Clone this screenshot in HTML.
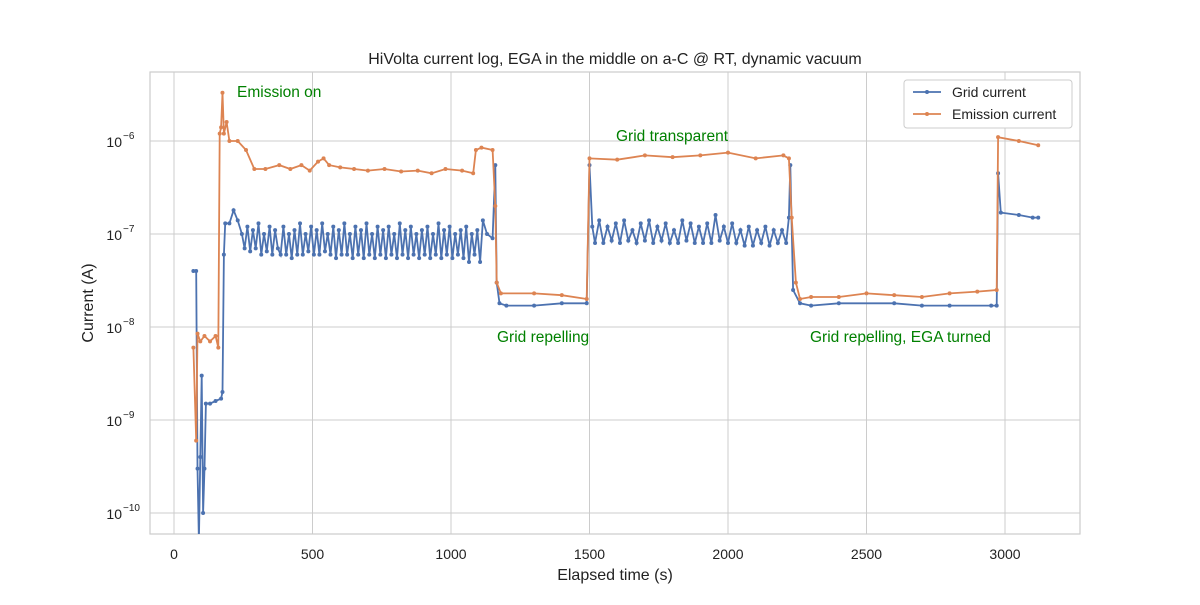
<!DOCTYPE html>
<html><head><meta charset="utf-8"><style>
body{margin:0;background:#fff}
svg text{font-family:"Liberation Sans","DejaVu Sans",sans-serif}
</style></head><body>
<svg id="c" width="1200" height="600" viewBox="0 0 1200 600"></svg>
<script>
const gridT=[70,80,85,90,95,100,105,110,115,130,150,170,175,180,185,200,215,230,245,255,265,275,285,295,305,315,325,335,345,355,365,375,385,395,405,415,425,435,445,455,465,475,485,495,505,515,525,535,545,555,565,575,585,595,605,615,625,635,645,655,665,675,685,695,705,715,725,735,745,755,765,775,785,795,805,815,825,835,845,855,865,875,885,895,905,915,925,935,945,955,965,975,985,995,1005,1015,1025,1035,1045,1055,1065,1075,1085,1095,1105,1115,1130,1150,1160,1165,1175,1200,1300,1400,1490,1500,1510,1520,1535,1550,1565,1580,1595,1610,1625,1640,1655,1670,1685,1700,1715,1730,1745,1760,1775,1790,1805,1820,1835,1850,1865,1880,1895,1910,1925,1940,1955,1970,1985,2000,2015,2030,2045,2060,2075,2090,2105,2120,2135,2150,2165,2180,2195,2210,2220,2225,2235,2260,2300,2400,2600,2700,2800,2950,2970,2975,2985,3050,3100,3120];
const gridV=[4e-8,4e-8,3e-10,5e-11,4e-10,3e-9,1e-10,3e-10,1.5e-9,1.5e-9,1.6e-9,1.7e-9,2e-9,6e-8,1.3e-7,1.3e-7,1.8e-7,1.4e-7,1e-7,7e-8,1.2e-7,6.5e-8,1.1e-7,7e-8,1.3e-7,6e-8,1e-7,6.5e-8,1.2e-7,6e-8,1.1e-7,7e-8,6e-8,1.2e-7,6e-8,1e-7,5.5e-8,1.1e-7,6e-8,1.3e-7,6e-8,1e-7,6.5e-8,1.2e-7,6e-8,1.1e-7,6e-8,1.3e-7,6.5e-8,1e-7,6e-8,1.2e-7,5.5e-8,1.1e-7,6e-8,1.3e-7,6e-8,1e-7,5.5e-8,1.2e-7,6e-8,1.1e-7,5.5e-8,1.3e-7,6e-8,1e-7,5.5e-8,1.2e-7,6e-8,1.1e-7,5.5e-8,1.2e-7,6e-8,1e-7,5.5e-8,1.3e-7,6e-8,1.1e-7,5.5e-8,1.2e-7,6e-8,1e-7,5.5e-8,1.1e-7,6e-8,1.2e-7,5.5e-8,1e-7,6e-8,1.3e-7,5.5e-8,1.1e-7,6e-8,1.2e-7,5.5e-8,1e-7,6e-8,1.1e-7,5.5e-8,1.2e-7,5e-8,1e-7,6e-8,1.1e-7,5e-8,1.4e-7,1e-7,9e-8,5.5e-7,3e-8,1.8e-8,1.7e-8,1.7e-8,1.8e-8,1.8e-8,5.5e-7,1.2e-7,8e-8,1.4e-7,8e-8,1.2e-7,8.5e-8,1.3e-7,8e-8,1.4e-7,8.5e-8,1.1e-7,8e-8,1.3e-7,8.5e-8,1.4e-7,8e-8,1.2e-7,8.5e-8,1.3e-7,8e-8,1.1e-7,8e-8,1.4e-7,8.5e-8,1.3e-7,8e-8,1.2e-7,8e-8,1.3e-7,8e-8,1.6e-7,8.5e-8,1.2e-7,8e-8,1.3e-7,8e-8,1.1e-7,7.5e-8,1.2e-7,7.5e-8,1.1e-7,8e-8,1.2e-7,7.5e-8,1.1e-7,8e-8,1.1e-7,8e-8,1.5e-7,5.5e-7,2.5e-8,1.8e-8,1.7e-8,1.8e-8,1.8e-8,1.7e-8,1.7e-8,1.7e-8,1.7e-8,4.5e-7,1.7e-7,1.6e-7,1.5e-7,1.5e-7];
const emT=[70,80,85,95,110,130,150,160,165,170,175,180,190,200,230,260,290,330,380,420,460,490,520,540,560,600,650,700,760,820,880,930,980,1040,1080,1090,1110,1150,1160,1165,1180,1300,1400,1490,1500,1600,1700,1800,1900,2000,2100,2200,2220,2230,2245,2260,2300,2400,2500,2600,2700,2800,2900,2970,2975,3050,3120];
const emV=[6e-9,6e-10,8.5e-9,7e-9,8e-9,7e-9,8e-9,6e-9,1.2e-6,1.4e-6,3.3e-6,1.2e-6,1.6e-6,1e-6,1e-6,8e-7,5e-7,5e-7,5.5e-7,5e-7,5.5e-7,4.8e-7,6e-7,6.5e-7,5.5e-7,5.2e-7,5e-7,4.8e-7,5e-7,4.7e-7,4.8e-7,4.5e-7,5e-7,4.8e-7,4.5e-7,8e-7,8.5e-7,8e-7,2e-7,3e-8,2.3e-8,2.3e-8,2.2e-8,2e-8,6.5e-7,6.3e-7,7e-7,6.7e-7,7e-7,7.5e-7,6.5e-7,7e-7,6.5e-7,1.5e-7,3e-8,2e-8,2.1e-8,2.1e-8,2.3e-8,2.2e-8,2.1e-8,2.3e-8,2.4e-8,2.5e-8,1.1e-6,1e-6,9e-7];
const xTicks=[0,500,1000,1500,2000,2500,3000];
const yTicks=[-10,-9,-8,-7,-6];

const NS="http://www.w3.org/2000/svg",svg=document.getElementById('c');
const L=150,R=1080,T=72,B=534;
const X=t=>174+t*(138.5/500);
const Y=v=>141-(Math.log10(v)+6)*93;
function el(tag,a,txt){const e=document.createElementNS(NS,tag);for(const k in a)e.setAttribute(k,a[k]);if(txt!=null)e.textContent=txt;svg.appendChild(e);return e;}
const defs=el('defs',{});const cp=document.createElementNS(NS,'clipPath');cp.setAttribute('id','pc');const cr=document.createElementNS(NS,'rect');cr.setAttribute('x',L);cr.setAttribute('y',T);cr.setAttribute('width',R-L);cr.setAttribute('height',B-T);cp.appendChild(cr);defs.appendChild(cp);
xTicks.forEach(t=>{const g=el('line',{x1:X(t),x2:X(t),y1:T,y2:B,stroke:'#ccc','stroke-width':1});


const l=el('text',{x:X(t),y:B+25,'text-anchor':'middle','font-size':14,fill:'#222'},t);

});
yTicks.forEach(p=>{const y=Y(Math.pow(10,p));const g=el('line',{x1:L,x2:R,y1:y,y2:y,stroke:'#ccc','stroke-width':1});


const l=el('text',{x:L-28,y:y+6,'text-anchor':'end','font-size':14,fill:'#222'},'10');


el('text',{x:L-27,y:y-2,'font-size':10,fill:'#222'},'−'+(-p));});
const fr=el('rect',{x:L,y:T,width:R-L,height:B-T,fill:'none',stroke:'#ccc','stroke-width':1.2});


function series(ts,vs,col,name){const g=el('g',{'clip-path':'url(#pc)'});


const d=ts.map((t,i)=>(i?'L':'M')+X(t).toFixed(1)+','+Y(vs[i]).toFixed(1)).join('');
const p=document.createElementNS(NS,'path');p.setAttribute('d',d);p.setAttribute('fill','none');p.setAttribute('stroke',col);p.setAttribute('stroke-width',1.8);g.appendChild(p);
ts.forEach((t,i)=>{const c=document.createElementNS(NS,'circle');c.setAttribute('cx',X(t));c.setAttribute('cy',Y(vs[i]));c.setAttribute('r',2);c.setAttribute('fill',col);


g.appendChild(c);});}
series(gridT,gridV,'#4c72b0','grid-current-series');
series(emT,emV,'#dd8452','emission-current-series');
function txt(x,y,s,n,o){const t=el('text',Object.assign({x:x,y:y,'font-size':16,fill:'#222'},o||{}),s);

}
txt(615,64,'HiVolta current log, EGA in the middle on a-C @ RT, dynamic vacuum','chart-title',{'text-anchor':'middle'});
txt(615,580,'Elapsed time (s)','x-axis-title',{'text-anchor':'middle'});
txt(93,303,'Current (A)','y-axis-title',{'text-anchor':'middle',transform:'rotate(-90 93 303)'});
txt(237,97,'Emission on','annotation-emission-on',{fill:'green','font-size':15.5});
txt(616,141,'Grid transparent','annotation-grid-transparent',{fill:'green','font-size':15.5});
txt(497,342,'Grid repelling','annotation-grid-repelling',{fill:'green','font-size':15.5});
txt(810,342,'Grid repelling, EGA turned','annotation-grid-repelling-ega-turned',{fill:'green','font-size':15.5});
const lg=el('rect',{x:904,y:80,width:168,height:48,fill:'#fff',stroke:'#ccc',rx:3});


[['Grid current','#4c72b0',92],['Emission current','#dd8452',114]].forEach(([s,c,y])=>{
el('line',{x1:913,x2:941,y1:y,y2:y,stroke:c,'stroke-width':1.8});el('circle',{cx:927,cy:y,r:2,fill:c});
txt(952,y+5,s,'legend-entry',{'font-size':14});});
</script>
</body></html>
